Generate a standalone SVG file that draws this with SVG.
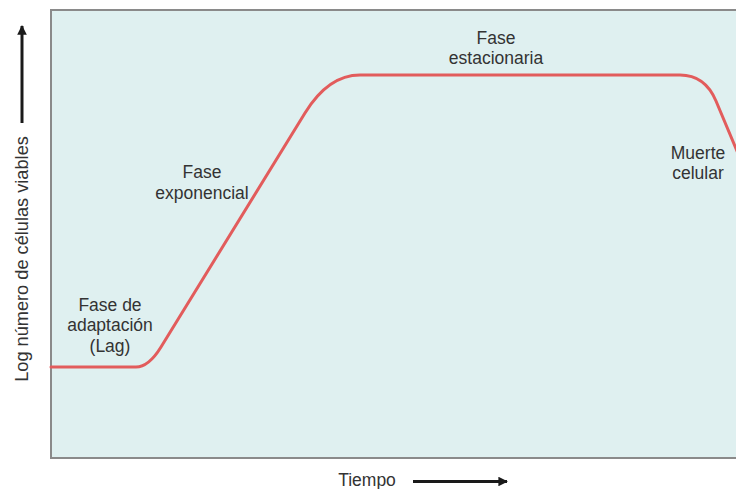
<svg xmlns="http://www.w3.org/2000/svg" width="736" height="489" viewBox="0 0 736 489">
  <defs>
    <style>
      .lbl { font-family: "Liberation Sans", Arial, sans-serif; font-size: 17.5px; fill: #333333; text-anchor: middle; }
      .axis { stroke: #1a1a1a; stroke-width: 3; fill: none; }
      .curve { stroke: #e25c5c; stroke-width: 3; fill: none; stroke-linejoin: round; stroke-linecap: round; }
    </style>
    <marker id="ah" viewBox="0 0 10 10" refX="9" refY="5" markerWidth="3.6" markerHeight="3.2" orient="auto" markerUnits="strokeWidth">
      <path d="M0,0 L10,5 L0,10 Z" fill="#1a1a1a"/>
    </marker>
  </defs>
  <rect width="736" height="489" fill="#ffffff"/>
  <g id="plot">
    <rect x="51" y="10" width="700" height="448" fill="#dff0f0" stroke="#8a8a8a" stroke-width="2"/>
  </g>
  <g id="connectors">
    <path class="curve" d="M51,367 L136,367 Q148.7,367 161,347 L305,113 Q328.4,75 360,75 L680,75 Q705,75 716,101 L745,170"/>
    <line class="axis" x1="22" y1="123" x2="22" y2="26" marker-end="url(#ah)"/>
    <line class="axis" x1="413" y1="481.5" x2="507" y2="481.5" marker-end="url(#ah)"/>
  </g>
  <g id="y-label">
    <text class="lbl" style="font-size:18.2px" transform="translate(28,259) rotate(-90)">Log número de células viables</text>
  </g>
  <g id="x-label">
    <text class="lbl" x="367" y="485.5">Tiempo</text>
  </g>
  <g id="lag">
    <text class="lbl" x="110" y="311">Fase de</text>
    <text class="lbl" x="110" y="331">adaptación</text>
    <text class="lbl" x="110" y="352">(Lag)</text>
  </g>
  <g id="exponencial">
    <text class="lbl" x="202" y="178">Fase</text>
    <text class="lbl" x="202" y="199">exponencial</text>
  </g>
  <g id="estacionaria">
    <text class="lbl" x="496" y="43.5">Fase</text>
    <text class="lbl" x="496" y="64">estacionaria</text>
  </g>
  <g id="muerte">
    <text class="lbl" x="698" y="159">Muerte</text>
    <text class="lbl" x="698" y="179">celular</text>
  </g>
</svg>
